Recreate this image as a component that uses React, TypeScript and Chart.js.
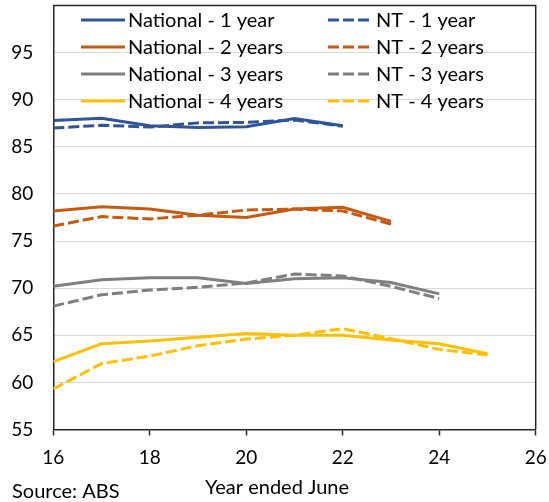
import React, { useEffect, useRef } from "react";
import { Chart, registerables } from "chart.js";

Chart.register(...registerables);

const years = [16, 17, 18, 19, 20, 21, 22, 23, 24, 25];
const national1 = [87.8, 88.05, 87.25, 87.05, 87.15, 88.0, 87.25];
const nt1 = [87.0, 87.3, 87.1, 87.55, 87.6, 87.85, 87.2];
const national2 = [78.2, 78.65, 78.4, 77.75, 77.5, 78.4, 78.6, 77.1];
const nt2 = [76.6, 77.6, 77.35, 77.75, 78.3, 78.4, 78.2, 76.8];
const national3 = [70.2, 70.9, 71.1, 71.1, 70.5, 71.0, 71.1, 70.6, 69.4];
const nt3 = [68.1, 69.3, 69.8, 70.1, 70.55, 71.5, 71.3, 70.2, 68.9];
const national4 = [62.2, 64.1, 64.4, 64.8, 65.2, 65.0, 65.0, 64.5, 64.1, 63.05];
const nt4 = [59.3, 62.0, 62.8, 63.9, 64.6, 65.0, 65.7, 64.65, 63.5, 62.9];

const seriesLabels = [
  "National - 1 year",
  "NT - 1 year",
  "National - 2 years",
  "NT - 2 years",
  "National - 3 years",
  "NT - 3 years",
  "National - 4 years",
  "NT - 4 years",
];
const seriesValues = [national1, nt1, national2, nt2, national3, nt3, national4, nt4];
const seriesColors = ["#2F5597", "#2F5597", "#C55A11", "#C55A11", "#7F7F7F", "#7F7F7F", "#FFC000", "#FFC000"];
const xTitle = "Year ended June";
const sourceText = "Source: ABS";

const FONT = "Lato";
const FS = 19;
const TEXT_FS = 20;
const DASH = [11, 4];

const decorPlugin = {
  id: "decor",
  afterDraw(chart: any) {
    const { ctx, chartArea } = chart;
    ctx.save();
    // frame: top and right edges
    ctx.strokeStyle = "#262626";
    ctx.lineWidth = 1.5;
    ctx.beginPath();
    ctx.moveTo(chartArea.left, chartArea.top);
    ctx.lineTo(chartArea.right, chartArea.top);
    ctx.lineTo(chartArea.right, chartArea.bottom);
    ctx.stroke();

    // legend, two columns inside the plot
    const rows = [20, 47, 74, 101];
    const cols = [
      { x0: 81, x1: 125, tx: 128 },
      { x0: 328, x1: 370, tx: 376 },
    ];
    ctx.font = `${TEXT_FS}px ${FONT}`;
    ctx.textBaseline = "middle";
    ctx.textAlign = "left";
    chart.data.datasets.forEach((ds: any, i: number) => {
      const r = rows[Math.floor(i / 2)];
      const c = cols[i % 2];
      ctx.strokeStyle = ds.borderColor;
      ctx.lineWidth = 3;
      ctx.lineCap = "butt";
      ctx.setLineDash(ds.borderDash || []);
      ctx.beginPath();
      ctx.moveTo(c.x0, r);
      ctx.lineTo(c.x1, r);
      ctx.stroke();
      ctx.setLineDash([]);
      ctx.fillStyle = "#000";
      ctx.fillText(ds.label, c.tx, r + 1);
    });

    // axis title and source note
    ctx.textAlign = "center";
    ctx.fillText(xTitle, 277, 488);
    ctx.textAlign = "left";
    ctx.fillText(sourceText, 12, 492);
    ctx.restore();
  },
};

export default function App() {
  const ref = useRef<HTMLCanvasElement | null>(null);
  useEffect(() => {
    document.body.style.margin = "0";
    if (!ref.current) return;
    const chart = new Chart(ref.current, {
      type: "line",
      data: {
        datasets: seriesLabels.map((label, i) => ({
          label,
          data: seriesValues[i].map((v, k) => ({ x: years[k], y: v })),
          borderColor: seriesColors[i],
          backgroundColor: seriesColors[i],
          borderWidth: 3,
          borderDash: i % 2 === 1 ? DASH : [],
          pointRadius: 0,
          tension: 0,
          fill: false,
        })),
      },
      options: {
        animation: false,
        responsive: false,
        devicePixelRatio: 1,
        layout: { autoPadding: false, padding: { left: 0, right: 13.3, top: 5.6, bottom: 0 } },
        plugins: {
          legend: { display: false },
          tooltip: { enabled: false },
        },
        scales: {
          x: {
            type: "linear",
            min: 16,
            max: 26,
            afterFit: (s: any) => {
              s.height = 72.5;
              s.paddingLeft = 0;
              s.paddingRight = 0;
            },
            ticks: {
              stepSize: 2,
              padding: 11,
              color: "#000",
              font: { family: FONT, size: FS },
              maxRotation: 0,
            },
            grid: {
              drawOnChartArea: false,
              drawTicks: true,
              tickLength: 6,
              tickColor: "#262626",
              tickWidth: 1.5,
            },
            border: { color: "#262626", width: 1.5 },
          },
          y: {
            min: 55,
            max: 100,
            afterFit: (s: any) => {
              s.width = 53.3;
              s.paddingTop = 0;
              s.paddingBottom = 0;
            },
            ticks: {
              stepSize: 5,
              padding: 20,
              color: "#000",
              font: { family: FONT, size: FS },
              callback: (v: any) => (v === 100 ? "" : String(v)),
            },
            grid: {
              color: "#D9D9D9",
              lineWidth: 1,
              drawTicks: false,
            },
            border: { color: "#262626", width: 1.5 },
          },
        },
      },
      plugins: [decorPlugin],
    });
    return () => chart.destroy();
  }, []);
  return (
    <div style={{ width: 549, height: 502 }}>
      <canvas ref={ref} width={549} height={502} />
    </div>
  );
}
